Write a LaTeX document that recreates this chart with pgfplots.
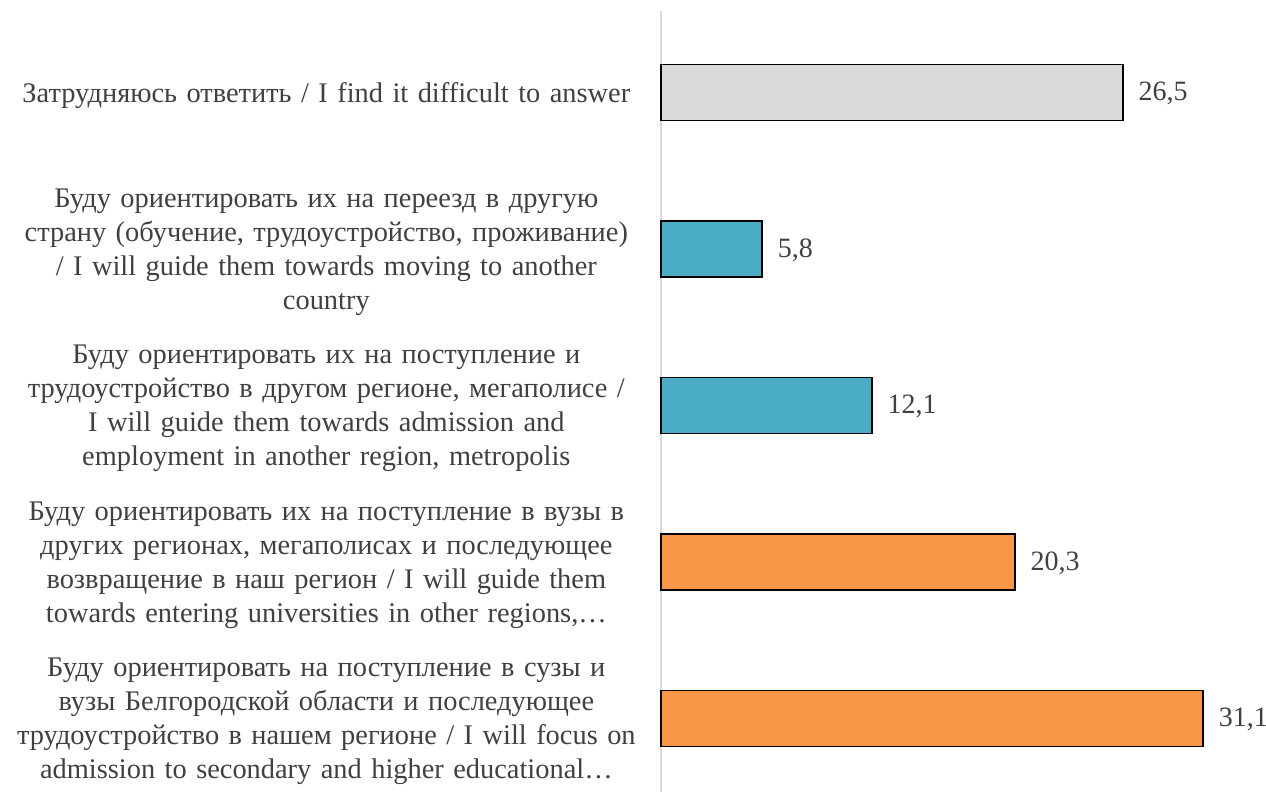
\documentclass[border=0pt]{standalone}
\usepackage{fontspec}
\setmainfont{Liberation Serif}
\usepackage{pgfplots}
\pgfplotsset{compat=1.18}
\definecolor{cgray}{HTML}{D9D9D9}
\definecolor{cteal}{HTML}{4BACC6}
\definecolor{corange}{HTML}{F79646}
\definecolor{ctext}{HTML}{404040}
\definecolor{caxis}{HTML}{D9D9D9}
\begin{document}
\begin{tikzpicture}
\path[use as bounding box] (0,0) rectangle (633bp,396bp);
\begin{axis}[
  at={(330.5bp,0bp)}, anchor=south west,
  scale only axis, width=296.3bp, height=390.5bp,
  xbar, bar width=28bp, bar shift=0pt,
  xmin=0, xmax=34, ymin=-0.47, ymax=4.52,
  axis x line=none, axis y line=left,
  y axis line style={draw=caxis, line width=1bp, -},
  ytick={0,1,2,3,4}, ytick style={draw=none},
  /pgf/number format/assume math mode=true,
  /pgf/number format/use comma,
  /pgf/number format/fixed,
  /pgf/number format/fixed zerofill,
  /pgf/number format/precision=1,
  yticklabels={
    {Буду ориентировать на поступление в сузы и\\вузы Белгородской области и последующее\\трудоустройство в нашем регионе / I will focus on\\admission to secondary and higher educational…},
    {Буду ориентировать их на поступление в вузы в\\других регионах, мегаполисах и последующее\\возвращение в наш регион / I will guide them\\towards entering universities in other regions,…},
    {Буду ориентировать их на поступление и\\трудоустройство в другом регионе, мегаполисе /\\I will guide them towards admission and\\employment in another region, metropolis},
    {Буду ориентировать их на переезд в другую\\страну (обучение, трудоустройство, проживание)\\/ I will guide them towards moving to another\\country},
    {Затрудняюсь ответить / I find it difficult to answer}
  },
  yticklabel style={text width=330bp, align=center, anchor=east, inner sep=0pt,
    xshift=0bp, yshift=-1.5bp, font=\fontsize{14.2bp}{17bp}\selectfont, text=ctext},
  nodes near coords,
  every node near coord/.append style={anchor=west, inner sep=0pt, xshift=7.5bp, yshift=-0.5bp,
    font=\fontsize{14bp}{17bp}\selectfont, text=ctext},
  clip=false,
]
\addplot[fill=corange, draw=black, line width=0.75bp] coordinates {(31.1,0) (20.3,1)};
\addplot[fill=cteal, draw=black, line width=0.75bp] coordinates {(12.1,2) (5.8,3)};
\addplot[fill=cgray, draw=black, line width=0.75bp] coordinates {(26.5,4)};
\end{axis}
\end{tikzpicture}
\end{document}
